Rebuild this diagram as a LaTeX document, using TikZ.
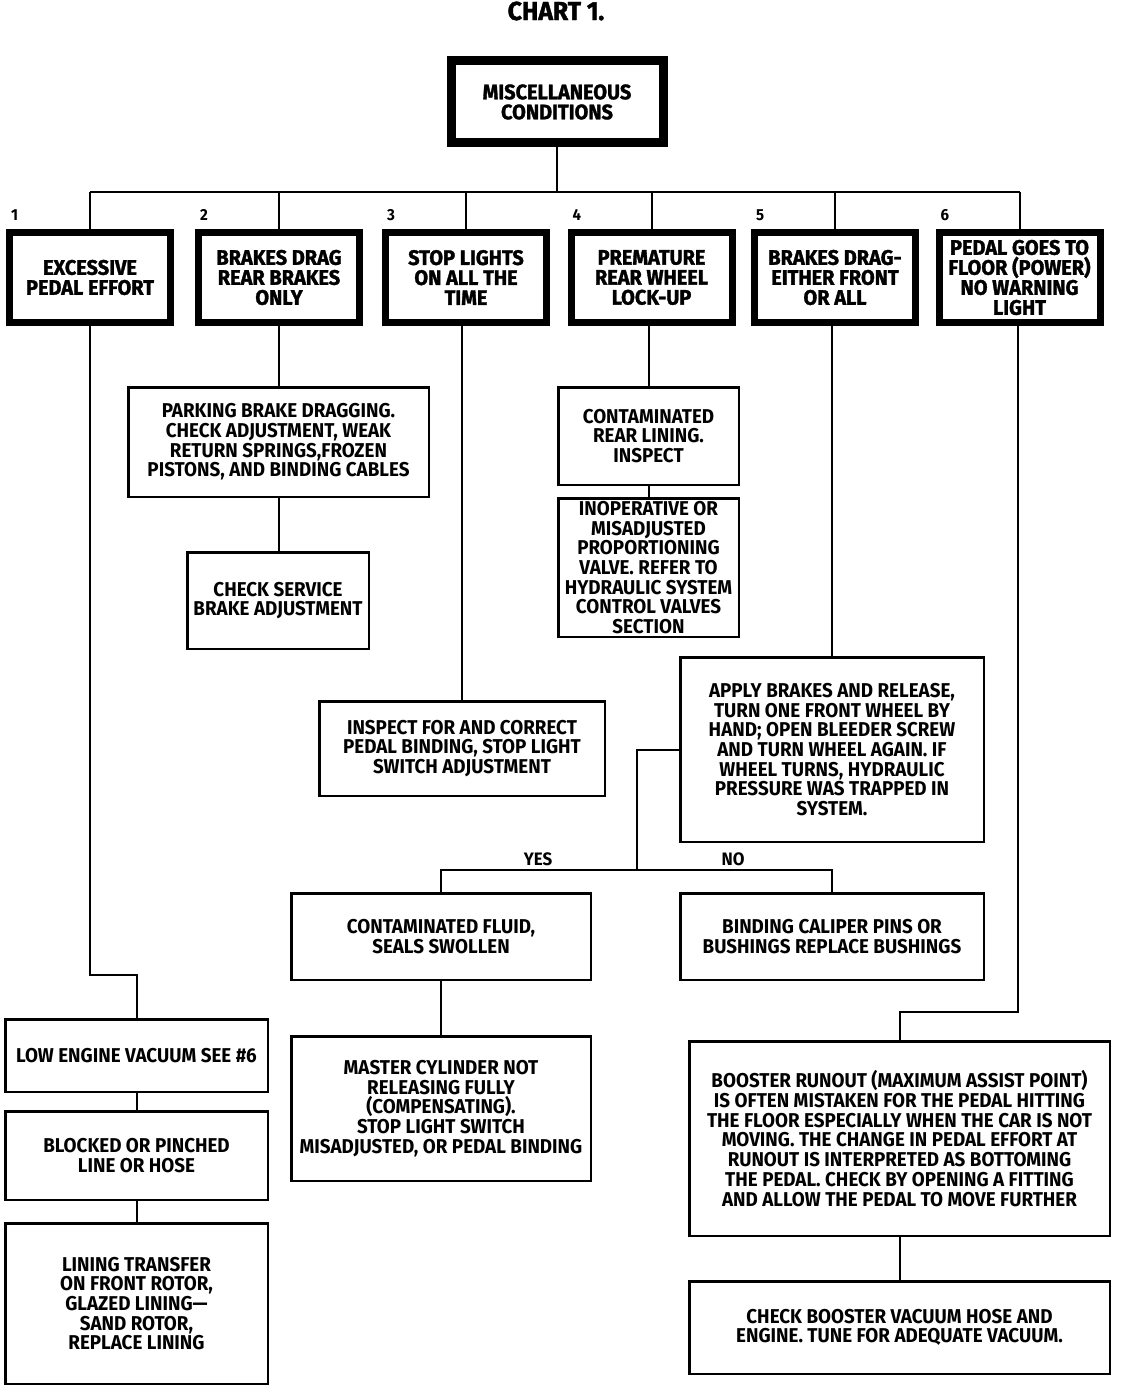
\documentclass[tikz,border=0pt]{standalone}
\usepackage{fontspec}
\setmainfont{Fira Sans}[FakeStretch=0.94]
\newfontfamily\headfont{Fira Sans}[FakeStretch=0.95, BoldFeatures={FakeBold=1.5}]

\begin{document}
\begin{tikzpicture}[x=1pt, y=-1pt,
  every node/.style={font=\fontsize{20}{19.7}\selectfont\bfseries, align=center, inner sep=0pt},
  topbox/.style={draw, line width=9pt, minimum width=212pt, minimum height=82pt,
    font=\fontsize{21}{20}\selectfont\headfont\bfseries},
  headbox/.style={draw, line width=7pt, minimum width=161pt, minimum height=90pt,
    font=\fontsize{21}{20}\selectfont\headfont\bfseries},
  thinbox/.style={draw, line width=2.5pt},
  numlabel/.style={anchor=south west, font=\fontsize{16}{16}\selectfont\bfseries},
  answer/.style={font=\fontsize{18}{18}\selectfont\bfseries},
  link/.style={line width=2pt}]
  \useasboundingbox (0,0) rectangle (1136,1388);

  %----- 標題 -----
  \node[font=\fontsize{26}{26}\selectfont\headfont\bfseries] (title) at (556,11) {CHART 1.};
  \node[topbox] (top) at (557,102) {MISCELLANEOUS\\CONDITIONS};

  %----- 六個分支 (name, x, number, text) -----
  \def\branch#1#2#3#4{
    \node[headbox] (#1) at (#2,277.5) {#4};
    \node[numlabel] (n#3) at ([xshift=5pt,yshift=8pt]#1.north west) {#3};
  }
  \branch{b1}{90}{1}{EXCESSIVE\\PEDAL EFFORT}
  \branch{b2}{279}{2}{BRAKES DRAG\\REAR BRAKES\\ONLY}
  \branch{b3}{466}{3}{STOP LIGHTS\\ON ALL THE\\TIME}
  \branch{b4}{651.5}{4}{PREMATURE\\REAR WHEEL\\LOCK-UP}
  \branch{b5}{835}{5}{BRAKES DRAG-\\EITHER FRONT\\OR ALL}
  \branch{b6}{1019.5}{6}{PEDAL GOES TO\\FLOOR (POWER)\\NO WARNING\\LIGHT}

  %----- 匯流線 -----
  \coordinate (bus) at (556,192);
  \draw[link] (top) -- (top |- bus);
  \draw[link] (b1 |- bus) -- (b6 |- bus);
  \foreach \b in {b1,b2,b3,b4,b5,b6}
    \draw[link] (\b |- bus) -- (\b);

  %----- 分支 2 -----
  \node[thinbox, minimum width=300.5pt, minimum height=109.5pt] (park) at (278.5,442)
    {PARKING BRAKE DRAGGING.\\CHECK ADJUSTMENT, WEAK\\RETURN SPRINGS,FROZEN\\PISTONS, AND BINDING CABLES};
  \node[thinbox, minimum width=181.5pt, minimum height=96.5pt] (csb) at (278,600.5)
    {CHECK SERVICE\\BRAKE ADJUSTMENT};

  %----- 分支 4 -----
  \node[thinbox, minimum width=180.5pt, minimum height=97.5pt] (crl) at (648.5,436)
    {CONTAMINATED\\REAR LINING.\\INSPECT};
  \node[thinbox, minimum width=180.5pt, minimum height=138.5pt] (inop) at (648.5,567.5)
    {INOPERATIVE OR\\MISADJUSTED\\PROPORTIONING\\VALVE. REFER TO\\HYDRAULIC SYSTEM\\CONTROL VALVES\\SECTION};

  %----- 分支 3 -----
  \node[thinbox, minimum width=285.5pt, minimum height=94.5pt] (insp) at (462,748.5)
    {INSPECT FOR AND CORRECT\\PEDAL BINDING, STOP LIGHT\\SWITCH ADJUSTMENT};

  %----- 分支 5 -----
  \node[thinbox, minimum width=303.5pt, minimum height=184.5pt] (apply) at (832,749.5)
    {APPLY BRAKES AND RELEASE,\\TURN ONE FRONT WHEEL BY\\HAND; OPEN BLEEDER SCREW\\AND TURN WHEEL AGAIN. IF\\WHEEL TURNS, HYDRAULIC\\PRESSURE WAS TRAPPED IN\\SYSTEM.};
  \node[thinbox, minimum width=299.5pt, minimum height=86.5pt] (cfl) at (441,936.5)
    {CONTAMINATED FLUID,\\SEALS SWOLLEN};
  \node[thinbox, minimum width=303.5pt, minimum height=86.5pt] (bcp) at (832,936.5)
    {BINDING CALIPER PINS OR\\BUSHINGS REPLACE BUSHINGS};
  \node[thinbox, minimum width=299.5pt, minimum height=144.5pt] (mcyl) at (441,1108.5)
    {MASTER CYLINDER NOT\\RELEASING FULLY\\(COMPENSATING).\\STOP LIGHT SWITCH\\MISADJUSTED, OR PEDAL BINDING};
  \node[answer] (yes) at (538,859) {YES};
  \node[answer] (no) at (733,859) {NO};

  %----- 分支 1 -----
  \node[thinbox, minimum width=262.5pt, minimum height=72.5pt] (low) at (136.5,1055.5)
    {LOW ENGINE VACUUM SEE \#6};
  \node[thinbox, minimum width=262.5pt, minimum height=88.5pt] (blk) at (136.5,1155.5)
    {BLOCKED OR PINCHED\\LINE OR HOSE};
  \node[thinbox, minimum width=262.5pt, minimum height=160.5pt] (lin) at (136.5,1303.5)
    {LINING TRANSFER\\ON FRONT ROTOR,\\GLAZED LINING---\\SAND ROTOR,\\REPLACE LINING};

  %----- 分支 6 -----
  \node[thinbox, minimum width=420.5pt, minimum height=194.5pt] (boost) at (899.5,1138.5)
    {BOOSTER RUNOUT (MAXIMUM ASSIST POINT)\\IS OFTEN MISTAKEN FOR THE PEDAL HITTING\\THE FLOOR ESPECIALLY WHEN THE CAR IS NOT\\MOVING. THE CHANGE IN PEDAL EFFORT AT\\RUNOUT IS INTERPRETED AS BOTTOMING\\THE PEDAL. CHECK BY OPENING A FITTING\\AND ALLOW THE PEDAL TO MOVE FURTHER};
  \node[thinbox, minimum width=420.5pt, minimum height=92.5pt] (cbv) at (899.5,1327.5)
    {CHECK BOOSTER VACUUM HOSE AND\\ENGINE. TUNE FOR ADEQUATE VACUUM.};

  %----- 連線 -----
  \coordinate (k1) at (90,975);
  \draw[link] (b1) -- (k1) -| (low);
  \draw[link] (low) -- (blk);
  \draw[link] (blk) -- (lin);
  \draw[link] (park) -- (park |- b2.south);
  \draw[link] (park) -- (park |- csb.north);
  \draw[link] (insp) -- (insp |- b3.south);
  \draw[link] (crl) -- (crl |- b4.south);
  \draw[link] (crl) -- (crl |- inop.north);
  \draw[link] (apply) -- (apply |- b5.south);
  \coordinate (j5) at (637,870);
  \draw[link] (apply.west) -| (j5);
  \draw[link] (cfl) |- (j5) -| (bcp);
  \draw[link] (cfl) -- (mcyl);
  \coordinate (k6) at (1018,1012);
  \draw[link] (b6.south -| k6) -- (k6) -| (boost);
  \draw[link] (boost) -- (cbv);
\end{tikzpicture}
\end{document}
